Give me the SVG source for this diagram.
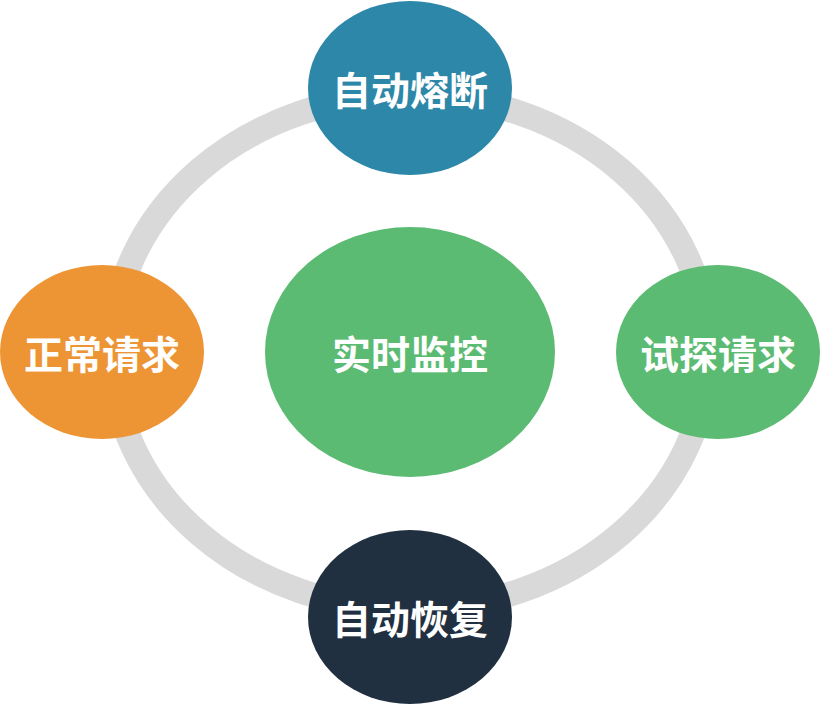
<svg xmlns="http://www.w3.org/2000/svg" width="821" height="705" viewBox="0 0 821 705">
<style>
.lbl{font-family:"Noto Sans CJK SC","Noto Sans",sans-serif;font-weight:700;font-size:39px;fill:#ffffff;text-anchor:middle;dominant-baseline:central}
</style>
<rect width="821" height="705" fill="#ffffff"/>
<g id="connectors">
<ellipse cx="410" cy="352" rx="298" ry="257" fill="none" stroke="#d9d9d9" stroke-width="25"/>
</g>
<g id="node-top"><ellipse cx="410" cy="88" rx="102" ry="87" fill="#2d87a8"/><text class="lbl" x="410" y="88">自动熔断</text></g>
<g id="node-left"><ellipse cx="102" cy="352" rx="102" ry="87" fill="#ed9535"/><text class="lbl" x="102" y="352">正常请求</text></g>
<g id="node-right"><ellipse cx="718" cy="352" rx="102" ry="87" fill="#5bbb72"/><text class="lbl" x="718" y="352">试探请求</text></g>
<g id="node-bottom"><ellipse cx="410" cy="617" rx="102" ry="87" fill="#213040"/><text class="lbl" x="410" y="617">自动恢复</text></g>
<g id="node-center"><ellipse cx="410" cy="352" rx="145" ry="125" fill="#5bbb72"/><text class="lbl" x="410" y="352">实时监控</text></g>
</svg>
